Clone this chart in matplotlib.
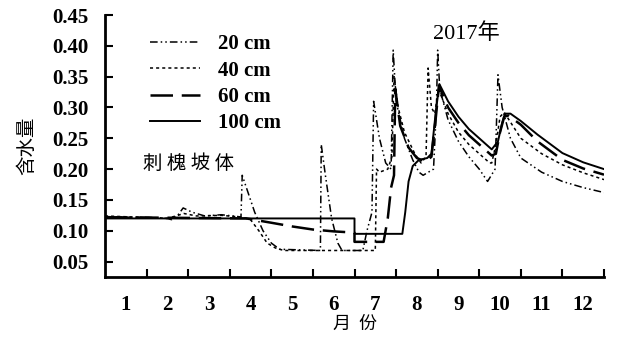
import matplotlib
matplotlib.use("Agg")
import matplotlib.pyplot as plt
import numpy as np

# soil moisture time series, x in months (0 = start of Jan, 12 = end of Dec)
t20 = [0, 0.5, 1.0, 1.5, 1.6, 1.75, 1.88, 2.1, 2.4, 2.8, 3.2, 3.27, 3.3, 3.45, 3.6, 3.8,
       4.0, 4.2, 5.18, 5.2, 5.3, 5.45, 5.6, 5.7, 6.2, 6.3, 6.42, 6.46, 6.6, 6.75, 6.88,
       6.93, 7.0, 7.2, 7.4, 7.55, 7.65, 7.9, 7.97, 8.0, 8.05, 8.25, 8.5, 8.75, 9.0, 9.2,
       9.38, 9.45, 9.55, 9.75, 10.0, 10.5, 11.0, 11.5, 12.0]
v20 = [0.123, 0.122, 0.122, 0.12, 0.118, 0.125, 0.137, 0.13, 0.124, 0.126, 0.123, 0.122,
       0.19, 0.16, 0.13, 0.1, 0.08, 0.07, 0.068, 0.24, 0.19, 0.12, 0.08, 0.068, 0.068,
       0.1, 0.13, 0.31, 0.25, 0.21, 0.2, 0.393, 0.31, 0.25, 0.215, 0.195, 0.19, 0.2, 0.3,
       0.393, 0.33, 0.28, 0.245, 0.22, 0.2, 0.18, 0.2, 0.353, 0.3, 0.25, 0.218, 0.195,
       0.18, 0.17, 0.162]

t40 = [0, 0.8, 1.5, 1.9, 2.2, 2.8, 3.3, 3.5, 3.7, 3.9, 4.1, 4.3, 6.5, 6.53, 6.6, 6.8,
       6.9, 6.95, 7.05, 7.2, 7.45, 7.6, 7.72, 7.77, 7.85, 7.93, 8.02, 8.25, 8.5, 8.75,
       9.0, 9.25, 9.3, 9.4, 9.5, 9.6, 10.0, 10.5, 11.0, 11.5, 12.0]
v40 = [0.124, 0.122, 0.12, 0.128, 0.124, 0.125, 0.122, 0.118, 0.1, 0.08, 0.072, 0.068,
       0.068, 0.2, 0.195, 0.2, 0.22, 0.35, 0.3, 0.26, 0.225, 0.21, 0.22, 0.364, 0.3,
       0.29, 0.33, 0.29, 0.26, 0.24, 0.225, 0.21, 0.21, 0.24, 0.285, 0.292, 0.25, 0.225,
       0.207, 0.194, 0.183]

t60 = [0, 3.4, 4.0, 4.5, 5.0, 5.5, 6.0, 6.0, 6.7, 6.8, 6.88, 6.95, 6.98, 7.1, 7.3, 7.5,
       7.7, 7.85, 7.95, 8.03, 8.25, 8.5, 8.75, 9.0, 9.3, 9.4, 9.5, 9.6, 9.7, 10.0, 10.4,
       11.0, 11.5, 12.0]
v60 = [0.122, 0.12, 0.113, 0.107, 0.102, 0.099, 0.097, 0.082, 0.082, 0.12, 0.17, 0.19,
       0.33, 0.27, 0.235, 0.218, 0.212, 0.22, 0.28, 0.335, 0.30, 0.275, 0.255, 0.24,
       0.222, 0.225, 0.26, 0.285, 0.287, 0.272, 0.245, 0.215, 0.201, 0.191]

t100 = [0, 6.0, 6.0, 7.15, 7.22, 7.3, 7.4, 7.55, 7.75, 7.85, 7.95, 8.04, 8.25, 8.5, 8.75,
        9.0, 9.3, 9.45, 9.55, 9.62, 9.75, 10.0, 10.4, 11.0, 11.5, 12.0]
v100 = [0.12, 0.12, 0.095, 0.095, 0.13, 0.18, 0.205, 0.215, 0.218, 0.225, 0.29, 0.338,
        0.31, 0.285, 0.265, 0.25, 0.232, 0.245, 0.275, 0.29, 0.29, 0.278, 0.256, 0.226,
        0.211, 0.20]

month_labels = [str(m) for m in range(1, 13)]
yticks = [0.05, 0.10, 0.15, 0.20, 0.25, 0.30, 0.35, 0.40, 0.45]

serif = ["Liberation Serif", "Noto Sans CJK SC"]
cjk = ["Noto Sans CJK SC", "DejaVu Sans"]

fig = plt.figure(figsize=(6.19, 3.41), dpi=100)
ax = fig.add_axes([0.1696, 0.1877, 0.8062, 0.7683])

ax.plot(t20, v20, color="black", lw=1.1, dashes=(5, 2, 1, 2, 1, 2), label="20 cm")
ax.plot(t40, v40, color="black", lw=1.1, dashes=(2, 2), label="40 cm")
ax.plot(t60, v60, color="black", lw=1.8, dashes=(9, 3.5), label="60 cm")
ax.plot(t100, v100, color="black", lw=1.4, label="100 cm")

ax.set_xlim(0, 12)
ax.set_ylim(0.025, 0.45)

for s in ("top", "right"):
    ax.spines[s].set_visible(False)
for s in ("left", "bottom"):
    ax.spines[s].set_linewidth(2.0)

ax.set_yticks(yticks)
ax.set_yticklabels([f"{y:.2f}" for y in yticks], family=serif, fontsize=15,
                   fontweight="bold")
ax.tick_params(axis="y", direction="in", length=6, width=1.5, pad=12)

# tick marks at month boundaries, labels centred on each month
ax.set_xticks(np.arange(1, 13), minor=True)
ax.set_xticks(np.arange(0.5, 12, 1))
ax.set_xticklabels(month_labels, family=serif, fontsize=15, fontweight="bold")
ax.tick_params(axis="x", which="major", length=0, pad=13)
ax.tick_params(axis="x", which="minor", direction="in", length=6, width=1.5)

leg = ax.legend(loc="upper left", bbox_to_anchor=(0.09, 0.926), frameon=False,
                borderpad=0, borderaxespad=0,
                handlelength=2.4, handletextpad=0.85, labelspacing=0.3,
                prop={"family": serif, "size": 15, "weight": "bold"})

ax.text(0.076, 0.435, "刺 槐 坡 体", transform=ax.transAxes, family=cjk, fontsize=14,
        ha="left", va="center")
ax.text(0.658, 0.93, "2017年", transform=ax.transAxes, family=serif, fontsize=16,
        ha="left", va="center")

fig.text(0.044, 0.572, "含水量", family=cjk, fontsize=14, rotation=90,
         ha="center", va="center")
fig.text(0.573, 0.05, "月  份", family=cjk, fontsize=13, ha="center", va="center")

fig.savefig("out.png", dpi=100, facecolor="white")
